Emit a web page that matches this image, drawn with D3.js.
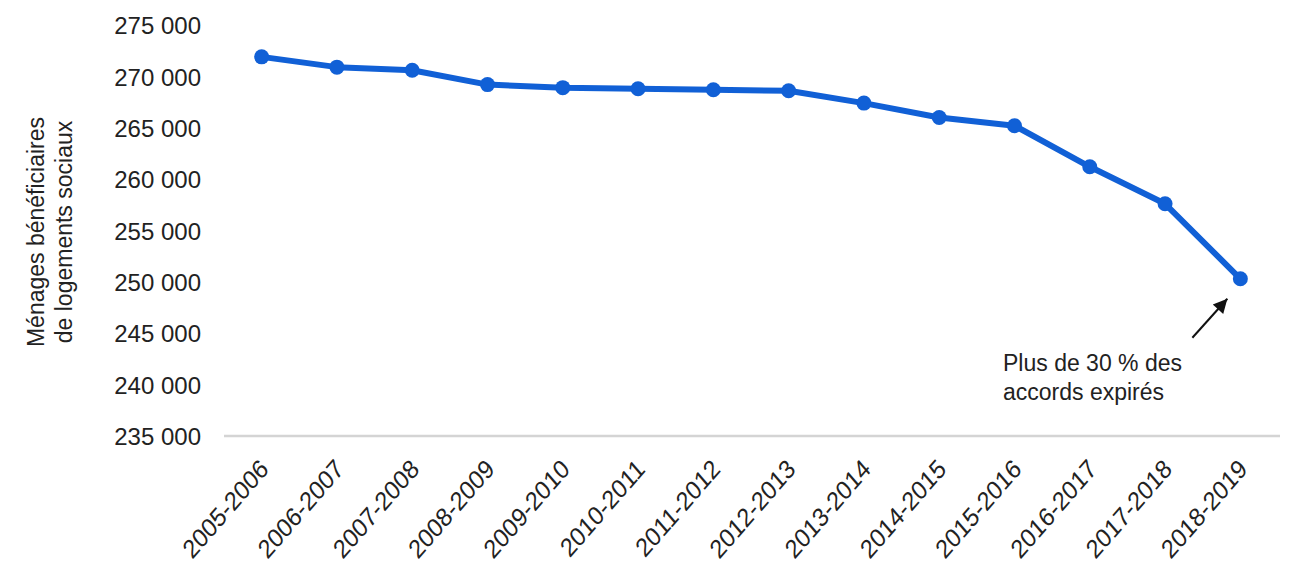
<!DOCTYPE html>
<html><head><meta charset="utf-8">
<script src="https://cdn.jsdelivr.net/npm/d3@7"></script>
<style>
body{margin:0;background:#fff;}
text{font-family:"Liberation Sans",Arial,sans-serif;font-weight:400;fill:#222;}
</style></head>
<body><svg id="c" width="1300" height="568"></svg>
<script>
const categories = ["2005-2006","2006-2007","2007-2008","2008-2009","2009-2010","2010-2011","2011-2012","2012-2013","2013-2014","2014-2015","2015-2016","2016-2017","2017-2018","2018-2019"];
const values = [271900,270900,270600,269200,268900,268800,268700,268600,267400,266000,265200,261200,257600,250300];
const yTicks = [235000,240000,245000,250000,255000,260000,265000,270000,275000];
const yTitle = ["Ménages bénéficiaires","de logements sociaux"];
const note = ["Plus de 30 % des","accords expirés"];

const svg = d3.select("#c");
const x = d3.scalePoint().domain(categories).range([224,1278]).padding(0.5);
const y = d3.scaleLinear().domain([235000,275000]).range([436,25]);
const fmt = v => d3.format(",")(v).replace(",", " ");

// baseline
svg.append("line").attr("x1",224).attr("x2",1280).attr("y1",y(235000)).attr("y2",y(235000))
  .attr("stroke","#d4d4d4").attr("stroke-width",2.5);

// y axis
const ya = svg.append("g").attr("transform","translate(201,0)")
  .call(d3.axisLeft(y).tickValues(yTicks).tickFormat(fmt).tickSize(0).tickPadding(0));
ya.select(".domain").remove();
ya.selectAll("text").style("font-size","24px").attr("dy","0.36em");

// x axis
const xa = svg.append("g").attr("transform",`translate(0,${y(235000)})`)
  .call(d3.axisBottom(x).tickSize(0).tickPadding(0));
xa.select(".domain").remove();
xa.selectAll("text").style("font-size","23px").attr("text-anchor","end")
  .attr("transform","translate(2,28) scale(1,1.15) rotate(-45)").attr("dy","0.35em").attr("dx","0");

// y title
const yt = svg.append("text").attr("transform","translate(50,232) rotate(-90)")
  .attr("text-anchor","middle").style("font-size","23px");
yTitle.forEach((t,i)=>yt.append("tspan").attr("x",0).attr("dy", i===0? "-0.25em":"1.2em").text(t));

// line
const color = "#1160d6";
svg.append("path").datum(values)
  .attr("d", d3.line().x((d,i)=>x(categories[i])).y(d=>y(d)))
  .attr("fill","none").attr("stroke",color).attr("stroke-width",6).attr("stroke-linejoin","round");
svg.selectAll("circle.pt").data(values).join("circle").attr("class","pt")
  .attr("cx",(d,i)=>x(categories[i])).attr("cy",d=>y(d)).attr("r",7.5).attr("fill",color);

// annotation
svg.append("defs").append("marker").attr("id","ah").attr("viewBox","0 0 10 10")
  .attr("markerUnits","userSpaceOnUse")
  .attr("refX",10).attr("refY",5).attr("markerWidth",16).attr("markerHeight",14).attr("orient","auto")
  .append("path").attr("d","M0,0 L10,5 L0,10 z").attr("fill","#111");
const lx = x(categories[13]), ly = y(values[13]);
svg.append("line").attr("x1",lx-48).attr("y1",ly+59).attr("x2",lx-13).attr("y2",ly+20)
  .attr("stroke","#111").attr("stroke-width",2).attr("marker-end","url(#ah)");
const nt = svg.append("text").style("font-size","23px");
note.forEach((t,i)=>nt.append("tspan").attr("x",1003).attr("y",371+i*29).text(t));
</script></body></html>
